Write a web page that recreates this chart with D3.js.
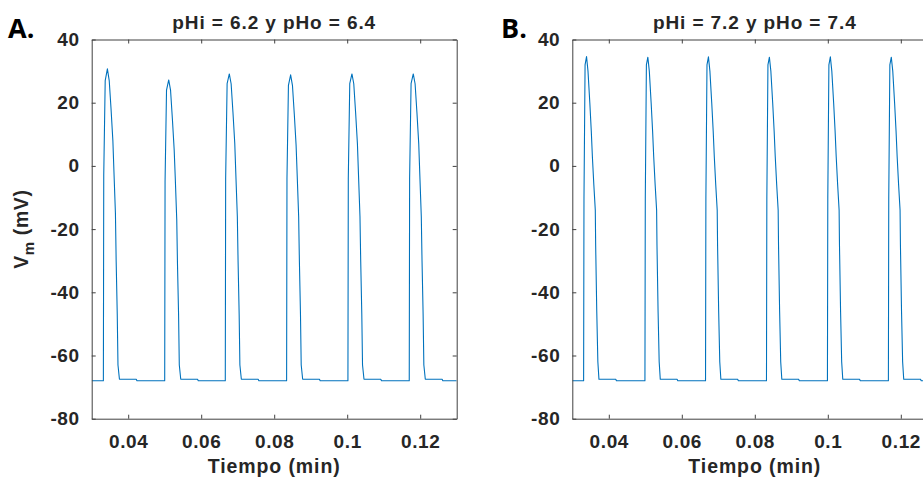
<!DOCTYPE html>
<html>
<head>
<meta charset="utf-8">
<script src="https://cdn.jsdelivr.net/npm/d3@7"></script>
<style>
  body { margin: 0; background: #fff; overflow: hidden; }
  svg { display: block; }
  .tick text { font-family: "Liberation Sans", Arial, sans-serif; font-weight: bold; font-size: 19px; letter-spacing: 0.6px; fill: #262626; }
  .tick line, .domain { stroke: #404040; }
</style>
</head>
<body>
<div id="chart"></div>
<script>
// tick labels
const xTicks = [0.04, 0.06, 0.08, 0.1, 0.12];
const yTicks = [-80, -60, -40, -20, 0, 20, 40];

// panel A: pHi = 6.2 y pHo = 6.4 (one row per action potential)
const timeA = [
  [0.0300],
  [0.0332, 0.0333, 0.0337, 0.0343, 0.0348, 0.0353, 0.0358, 0.0361, 0.0365, 0.0367, 0.0370, 0.0372, 0.0376, 0.0422, 0.0424],
  [0.0500, 0.0501, 0.0505, 0.0511, 0.0516, 0.0521, 0.0526, 0.0529, 0.0533, 0.0535, 0.0538, 0.0540, 0.0544, 0.0590, 0.0592],
  [0.0666, 0.0667, 0.0671, 0.0677, 0.0682, 0.0687, 0.0692, 0.0695, 0.0699, 0.0701, 0.0704, 0.0706, 0.0710, 0.0756, 0.0758],
  [0.0834, 0.0835, 0.0839, 0.0845, 0.0850, 0.0855, 0.0860, 0.0863, 0.0867, 0.0869, 0.0872, 0.0874, 0.0878, 0.0924, 0.0926],
  [0.1002, 0.1003, 0.1007, 0.1013, 0.1018, 0.1023, 0.1028, 0.1031, 0.1035, 0.1037, 0.1040, 0.1042, 0.1046, 0.1092, 0.1094],
  [0.1170, 0.1171, 0.1175, 0.1181, 0.1186, 0.1191, 0.1196, 0.1199, 0.1203, 0.1205, 0.1208, 0.1210, 0.1214, 0.1260, 0.1262],
  [0.1300]
];
const vmA = [
  [-68],
  [-68, -3, 27, 30.7, 27, 18, 8, -2, -15, -30, -47, -63, -67.5, -67.5, -68],
  [-68, -5, 24, 27.2, 24, 15, 5, -4, -17, -31, -47, -63, -67.5, -67.5, -68],
  [-68, -4, 26, 29.1, 26, 17, 7, -3, -16, -30, -47, -63, -67.5, -67.5, -68],
  [-68, -4, 25.5, 28.8, 25.5, 16.5, 6.5, -3, -16, -30, -47, -63, -67.5, -67.5, -68],
  [-68, -4, 26, 29.1, 26, 17, 7, -3, -16, -30, -47, -63, -67.5, -67.5, -68],
  [-68, -4, 26, 29.1, 26, 17, 7, -3, -16, -30, -47, -63, -67.5, -67.5, -68],
  [-68]
];

// panel B: pHi = 7.2 y pHo = 7.4
const timeB = [
  [0.0300],
  [0.0331, 0.0332, 0.0335, 0.0339, 0.0343, 0.0348, 0.0352, 0.0355, 0.0359, 0.0363, 0.0364, 0.0367, 0.0370, 0.0373, 0.0419, 0.0421],
  [0.0499, 0.0500, 0.0503, 0.0507, 0.0511, 0.0516, 0.0520, 0.0523, 0.0527, 0.0531, 0.0532, 0.0535, 0.0538, 0.0541, 0.0587, 0.0589],
  [0.0665, 0.0666, 0.0669, 0.0673, 0.0677, 0.0682, 0.0686, 0.0689, 0.0693, 0.0697, 0.0698, 0.0701, 0.0704, 0.0707, 0.0753, 0.0755],
  [0.0832, 0.0833, 0.0836, 0.0840, 0.0844, 0.0849, 0.0853, 0.0856, 0.0860, 0.0864, 0.0865, 0.0868, 0.0871, 0.0874, 0.0920, 0.0922],
  [0.0999, 0.1000, 0.1003, 0.1007, 0.1011, 0.1016, 0.1020, 0.1023, 0.1027, 0.1031, 0.1032, 0.1035, 0.1038, 0.1041, 0.1087, 0.1089],
  [0.1166, 0.1167, 0.1170, 0.1174, 0.1178, 0.1183, 0.1187, 0.1190, 0.1194, 0.1198, 0.1199, 0.1202, 0.1205, 0.1208, 0.1254, 0.1256],
  [0.1300]
];
const vmB = [
  [-68],
  [-68, -10, 32, 34.6, 30, 20, 11, 3, -6, -14, -25, -46, -62, -67.5, -67.5, -68],
  [-68, -10, 32, 34.4, 30, 20, 11, 3, -6, -14, -25, -46, -62, -67.5, -67.5, -68],
  [-68, -10, 32, 34.5, 30, 20, 11, 3, -6, -14, -25, -46, -62, -67.5, -67.5, -68],
  [-68, -10, 32, 34.4, 30, 20, 11, 3, -6, -14, -25, -46, -62, -67.5, -67.5, -68],
  [-68, -10, 32, 34.5, 30, 20, 11, 3, -6, -14, -25, -46, -62, -67.5, -67.5, -68],
  [-68, -10, 32, 34.4, 30, 20, 11, 3, -6, -14, -25, -46, -62, -67.5, -67.5, -68],
  [-68]
];

const panels = [
  { letter: "A.", title: "pHi = 6.2 y pHo = 6.4", time: timeA, vm: vmA, left: 91.7, letterX: 8, ylabel: true },
  { letter: "B.", title: "pHi = 7.2 y pHo = 7.4", time: timeB, vm: vmB, left: 572.3, letterX: 501, ylabel: false }
];

const width = 923, height = 482;
const plotW = 365, plotH = 379.2, plotTop = 39.5;
const font = '"Liberation Sans", Arial, sans-serif';

const svg = d3.select("#chart").append("svg")
  .attr("width", width)
  .attr("height", height);

const x = d3.scaleLinear().domain([0.03, 0.13]).range([0, plotW]);
const y = d3.scaleLinear().domain([-80, 40]).range([plotH, 0]);

//plain hyphen minus like the original
const fmt = d => String(+d.toFixed(2));

panels.forEach((p, k) => {
  const g = svg.append("g").attr("transform", `translate(${p.left},${plotTop})`);

  //clip so the trace stays inside the box
  g.append("clipPath").attr("id", "clip" + k)
    .append("rect").attr("width", plotW).attr("height", plotH);

  const pts = d3.zip(p.time.flat(), p.vm.flat());
  const line = d3.line().x(d => x(d[0])).y(d => y(d[1]));
  g.append("path")
    .datum(pts)
    .attr("clip-path", `url(#clip${k})`)
    .attr("fill", "none")
    .attr("stroke", "#0072BD")
    .attr("stroke-width", 1.1)
    .attr("stroke-linejoin", "round")
    .attr("d", line);

  //axes with inward ticks on all four sides
  g.append("g").attr("transform", `translate(0,${plotH})`)
    .call(d3.axisBottom(x).tickValues(xTicks).tickFormat(fmt).tickSize(-4).tickSizeOuter(0).tickPadding(16));
  g.append("g")
    .call(d3.axisTop(x).tickValues(xTicks).tickFormat("").tickSize(-4).tickSizeOuter(0));
  g.append("g")
    .call(d3.axisLeft(y).tickValues(yTicks).tickFormat(fmt).tickSize(-4).tickSizeOuter(0).tickPadding(12));
  g.append("g").attr("transform", `translate(${plotW},0)`)
    .call(d3.axisRight(y).tickValues(yTicks).tickFormat("").tickSize(-4).tickSizeOuter(0));

  //title
  g.append("text")
    .attr("x", plotW / 2)
    .attr("y", -11)
    .attr("text-anchor", "middle")
    .style("font-family", font)
    .style("font-weight", "bold")
    .style("font-size", "19px")
    .style("letter-spacing", "0.9px")
    .attr("fill", "#262626")
    .text(p.title);

  //x label
  g.append("text")
    .attr("x", plotW / 2)
    .attr("y", plotH + 54)
    .attr("text-anchor", "middle")
    .style("font-family", font)
    .style("font-weight", "bold")
    .style("font-size", "19.5px")
    .style("letter-spacing", "0.9px")
    .attr("fill", "#262626")
    .text("Tiempo (min)");

  //panel letter
  svg.append("text")
    .attr("x", p.letterX)
    .attr("y", 38)
    .style("font-family", '"Open Sans", sans-serif')
    .style("font-weight", "bold")
    .style("font-size", "27px")
    .attr("fill", "#000")
    .text(p.letter);

  if (p.ylabel) {
    const yl = g.append("text")
      .attr("transform", `translate(-64,${plotH / 2}) rotate(-90)`)
      .attr("text-anchor", "middle")
      .style("font-family", font)
      .style("font-weight", "bold")
      .style("font-size", "19.5px")
      .style("letter-spacing", "0.6px")
      .attr("fill", "#262626");
    yl.append("tspan").text("V");
    yl.append("tspan").attr("dy", 6).style("font-size", "15px").text("m");
    yl.append("tspan").attr("dy", -6).text(" (mV)");
  }
});
</script>
</body>
</html>
